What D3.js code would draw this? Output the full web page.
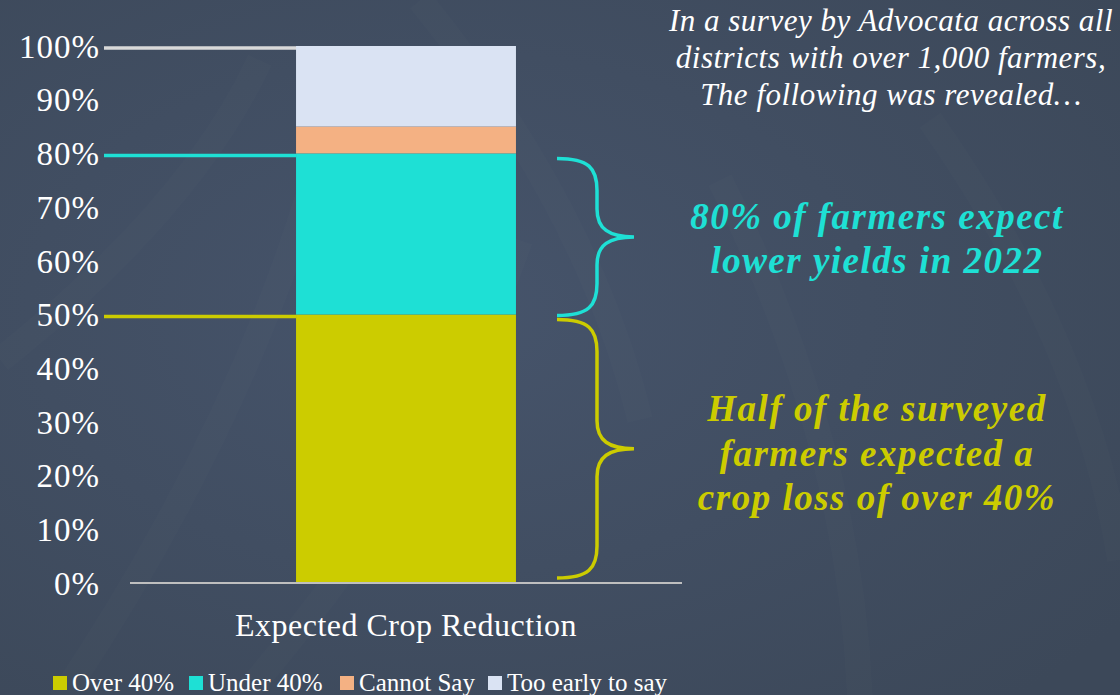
<!DOCTYPE html>
<html>
<head>
<meta charset="utf-8">
<script src="https://cdn.jsdelivr.net/npm/d3@7"></script>
<style>
  html, body { margin: 0; padding: 0; background: #3f4b5e; }
  svg { display: block; }
</style>
</head>
<body>
<div id="chart"></div>
<script>
// Data
const category = 'Expected Crop Reduction';
const seriesNames = ['Over 40%', 'Under 40%', 'Cannot Say', 'Too early to say'];
const seriesValues = [50, 30, 5, 15];
const seriesColors = ['#cccc00', '#1ee0d5', '#f4b183', '#dae3f3'];
const yTicks = [0, 10, 20, 30, 40, 50, 60, 70, 80, 90, 100];

const introLines = ['In a survey by Advocata across all', 'districts with over 1,000 farmers,', 'The following was revealed…'];
const cyanLines = ['80% of farmers expect', 'lower yields in 2022'];
const yellowLines = ['Half of the surveyed', 'farmers expected a', 'crop loss of over 40%'];

// reference lines at cumulative levels
const refLines = [
    { value: 100, color: '#d9d9d9' },
    { value: 80, color: '#1ee0d5' },
    { value: 50, color: '#cccc00' }
];
// braces spanning ranges of the stack
const braces = [
    { from: 80, to: 50, color: '#1ee0d5' },
    { from: 50, to: 0, color: '#cccc00' }
];

const W = 1120, H = 695;
const serif = '"Liberation Serif", "Times New Roman", serif';

const svg = d3.select('#chart').append('svg')
    .attr('width', W).attr('height', H);

// Background
const defs = svg.append('defs');
const grad = defs.append('radialGradient').attr('id', 'bg')
    .attr('cx', '40%').attr('cy', '45%').attr('r', '75%');
grad.append('stop').attr('offset', '0%').attr('stop-color', '#46546b');
grad.append('stop').attr('offset', '100%').attr('stop-color', '#3c4859');
svg.append('rect').attr('width', W).attr('height', H).attr('fill', 'url(#bg)');

// faint leaf pattern
const leaf = svg.append('g').attr('fill', 'none').attr('stroke', '#ffffff').attr('stroke-opacity', 0.012).attr('stroke-width', 26);
[[60, 700, 330, 120], [240, 700, 520, 240], [860, 700, 720, 180], [1120, 560, 930, 120], [420, 0, 640, 420], [0, 360, 260, 60]]
    .forEach(([x1, y1, x2, y2]) => {
        leaf.append('path').attr('d', `M${x1},${y1} Q${(x1 + x2) / 2 + 60},${(y1 + y2) / 2} ${x2},${y2}`);
    });

// Scales
const y = d3.scaleLinear().domain([0, 100]).range([583, 46]);
const x = d3.scaleBand().domain([category]).range([130, 682]).paddingInner(0).paddingOuter(0.755);

// Reference lines (drawn behind the bar)
svg.append('g').selectAll('line').data(refLines).enter().append('line')
    .attr('x1', 104).attr('x2', d => d.value === 100 ? x(category) + 6 : x(category))
    .attr('y1', d => y(d.value) + 2).attr('y2', d => y(d.value) + 2)
    .attr('stroke', d => d.color).attr('stroke-width', 3.5);

// Stacked bar
const stackData = [Object.fromEntries(seriesNames.map((n, i) => [n, seriesValues[i]]))];
const stacked = d3.stack().keys(seriesNames)(stackData);
const colorScale = d3.scaleOrdinal().domain(seriesNames).range(seriesColors);

svg.append('g').selectAll('rect').data(stacked).enter().append('rect')
    .attr('x', x(category))
    .attr('width', x.bandwidth())
    .attr('y', d => y(d[0][1]))
    .attr('height', d => y(d[0][0]) - y(d[0][1]))
    .attr('fill', d => colorScale(d.key));

// X axis baseline
svg.append('line')
    .attr('x1', 130).attr('x2', 682).attr('y1', y(0)).attr('y2', y(0))
    .attr('stroke', '#bfbfbf').attr('stroke-width', 2);

// Y axis labels
const yAxis = d3.axisLeft(y).tickValues(yTicks).tickFormat(d => d + '%').tickSize(0).tickPadding(0);
const yg = svg.append('g').attr('transform', 'translate(100,0)').call(yAxis);
yg.select('.domain').remove();
yg.selectAll('text')
    .attr('font-family', serif).attr('font-size', 33).attr('letter-spacing', 1)
    .attr('fill', '#ffffff').attr('dy', '0.34em');

// Category label
svg.append('text')
    .attr('x', x(category) + x.bandwidth() / 2).attr('y', 636)
    .attr('text-anchor', 'middle')
    .attr('font-family', serif).attr('font-size', 32).attr('letter-spacing', 0.5).attr('fill', '#ffffff')
    .text(category);

// Braces
function bracePath(top, bot) {
    const xl = 557, xv = 597, xt = 634, mid = (top + bot) / 2;
    return `M${xl},${top} C${xv - 8},${top} ${xv},${top + 10} ${xv},${top + 32}
            L${xv},${mid - 28} C${xv},${mid - 8} ${xv + 12},${mid} ${xt},${mid}
            C${xv + 12},${mid} ${xv},${mid + 8} ${xv},${mid + 28}
            L${xv},${bot - 32} C${xv},${bot - 10} ${xv - 8},${bot} ${xl},${bot}`;
}
svg.append('g').selectAll('path').data(braces).enter().append('path')
    .attr('d', d => bracePath(y(d.from) + 5, y(d.to) + (d.to === 0 ? -5 : 1)))
    .attr('fill', 'none').attr('stroke', d => d.color).attr('stroke-width', 3.5);

// Intro text
svg.append('g').selectAll('text').data(introLines).enter().append('text')
    .attr('x', 891).attr('y', (d, i) => 31 + i * 37)
    .attr('text-anchor', 'middle')
    .attr('font-family', serif).attr('font-style', 'italic').attr('font-size', 31).attr('letter-spacing', 0.5)
    .attr('fill', '#ffffff')
    .text(d => d);

// Annotations
svg.append('g').selectAll('text').data(cyanLines).enter().append('text')
    .attr('x', 877).attr('y', (d, i) => 229 + i * 44)
    .attr('text-anchor', 'middle')
    .attr('font-family', serif).attr('font-style', 'italic').attr('font-weight', 'bold').attr('font-size', 37)
    .attr('letter-spacing', 1.5).attr('fill', '#1ee0d5')
    .text(d => d);

svg.append('g').selectAll('text').data(yellowLines).enter().append('text')
    .attr('x', 877).attr('y', (d, i) => 421 + i * 44.5)
    .attr('text-anchor', 'middle')
    .attr('font-family', serif).attr('font-style', 'italic').attr('font-weight', 'bold').attr('font-size', 37)
    .attr('letter-spacing', 1.5).attr('fill', '#cccc00')
    .text(d => d);

// Legend
const legendX = [53, 189, 340, 488];
const legend = svg.append('g').selectAll('g').data(seriesNames).enter().append('g')
    .attr('transform', (d, i) => `translate(${legendX[i]},676)`);
legend.append('rect').attr('width', 14).attr('height', 14).attr('fill', (d, i) => seriesColors[i]);
legend.append('text')
    .attr('x', 19).attr('y', 15)
    .attr('font-family', serif).attr('font-size', 25).attr('fill', '#ffffff')
    .text(d => d);
</script>
</body>
</html>
